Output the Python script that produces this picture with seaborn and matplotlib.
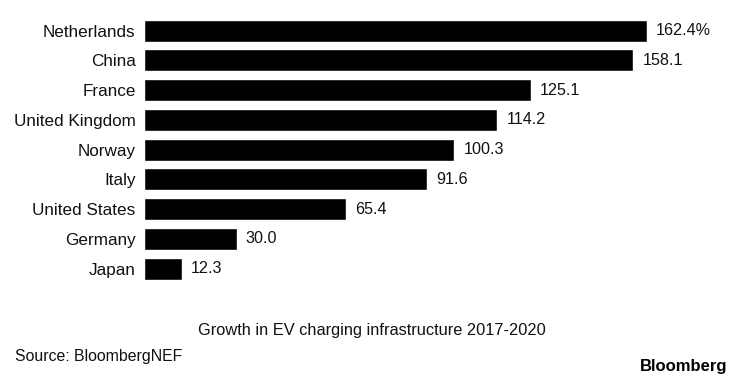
import matplotlib
matplotlib.use('Agg')
import matplotlib.pyplot as plt
import seaborn as sns
import pandas as pd

countries = ['Netherlands', 'China', 'France', 'United Kingdom', 'Norway',
             'Italy', 'United States', 'Germany', 'Japan']
growth = [162.4, 158.1, 125.1, 114.2, 100.3, 91.6, 65.4, 30.0, 12.3]
value_labels = ['162.4%', '158.1', '125.1', '114.2', '100.3', '91.6', '65.4', '30.0', '12.3']

sns.set_style('white')
plt.rcParams['font.family'] = ['Liberation Sans', 'DejaVu Sans']

df = pd.DataFrame({'country': countries, 'growth': growth})

fig = plt.figure(figsize=(7.4, 3.82), dpi=100)
ax = fig.add_axes([144 / 740, 0.258, 588 / 740, 0.701])

sns.barplot(data=df, x='growth', y='country', color='black', width=0.74,
            saturation=1, ax=ax, orient='h')

for i, (v, lab) in enumerate(zip(growth, value_labels)):
    ax.text(v + 2.9, i, lab, va='center', ha='left', fontsize=11.6, color='#111111')

ax.set_xlim(0, 190)
ax.set_ylim(8.5, -0.5)
ax.set_xlabel('')
ax.set_ylabel('')
ax.set_xticks([])
ax.tick_params(axis='y', length=0, pad=6, labelsize=12.3, labelcolor='#111111')
sns.despine(ax=ax, left=True, bottom=True)

fig.text(372 / 740, 1 - 330 / 382, 'Growth in EV charging infrastructure 2017-2020',
         ha='center', va='center', fontsize=11.8, color='#111111')
fig.text(15 / 740, 1 - 357 / 382, 'Source: BloombergNEF',
         ha='left', va='center', fontsize=11.4, color='#111111')
fig.text(727 / 740, 1 - 366 / 382, 'Bloomberg',
         ha='right', va='center', fontsize=12, fontweight='bold', color='black',
         family=['Liberation Sans Narrow', 'Liberation Sans'])

fig.savefig('out.png', dpi=100)
